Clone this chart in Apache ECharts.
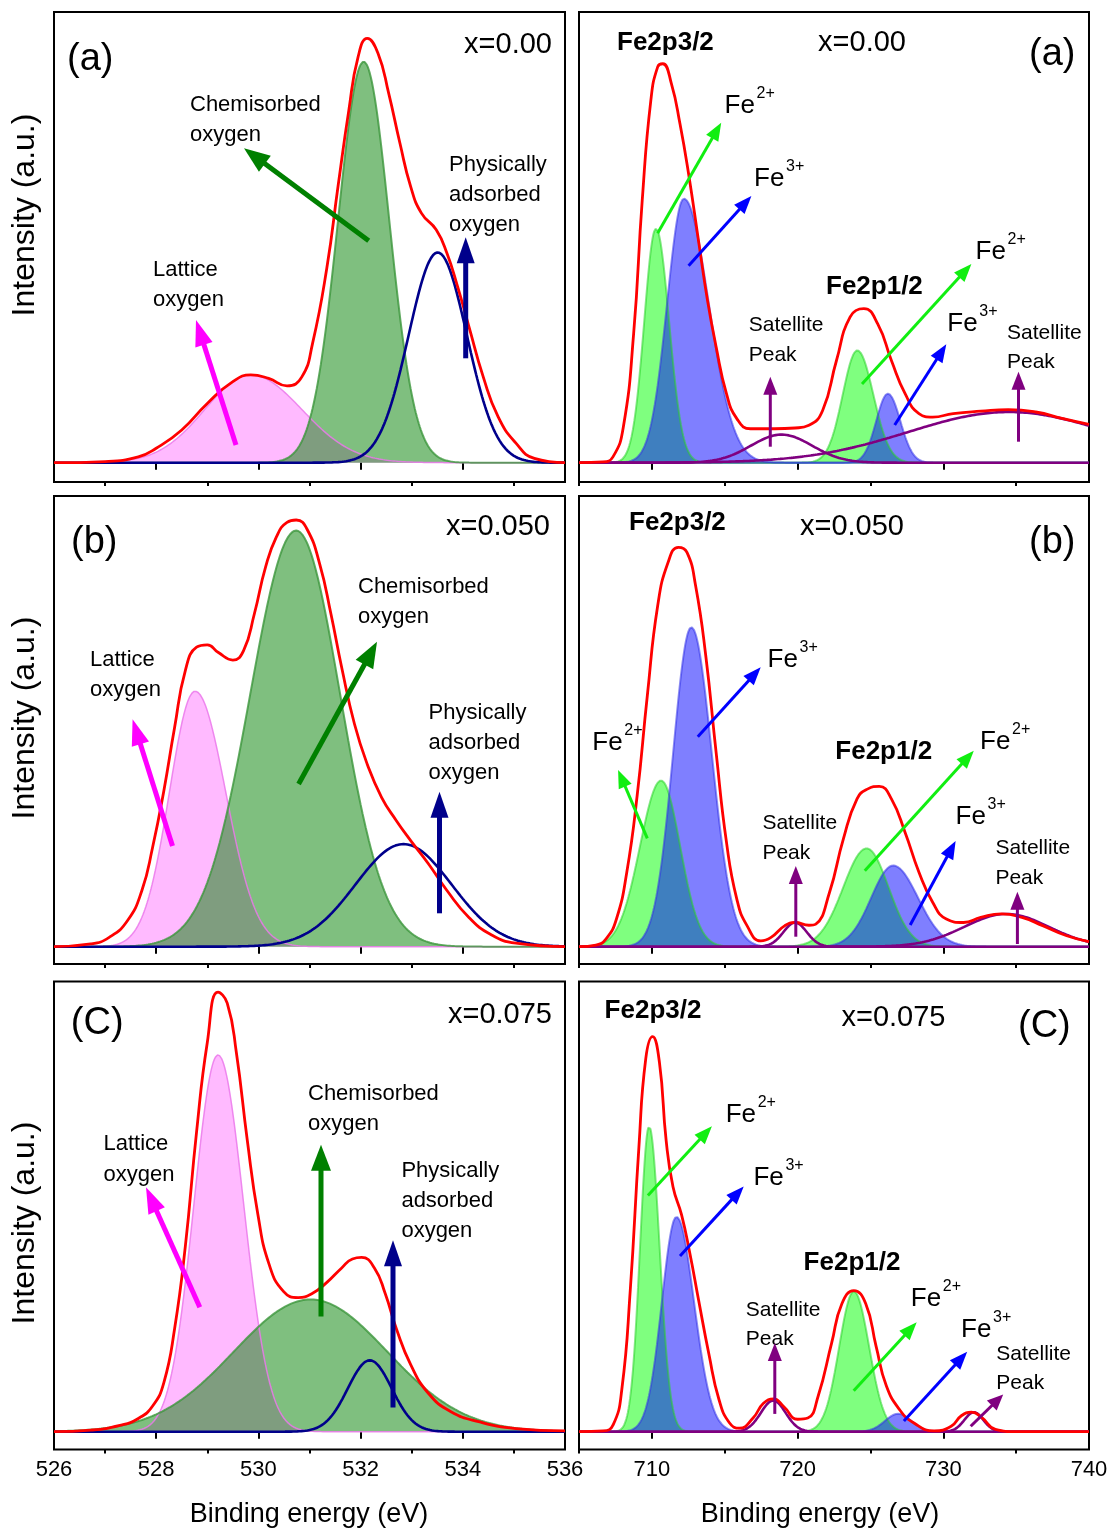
<!DOCTYPE html>
<html><head><meta charset="utf-8">
<script src="https://cdn.jsdelivr.net/npm/echarts@6/dist/echarts.min.js"></script>
<style>html,body{margin:0;padding:0;background:#fff}#c{width:1110px;height:1532px}</style>
</head><body><div id="c"></div><script>
// ================= DATA =================
// Tick labels
const oTicks = [526, 528, 530, 532, 534, 536];
const oMinorTicks = [527, 529, 531, 533, 535];
const feTicks = [710, 720, 730, 740];
const feMinorTicks = [705, 715, 725, 735];
const oRange = [526, 536];
const feRange = [705, 740];

// Fitted component peaks: [centre (eV), height (a.u.), sigma left, sigma right]
// O1s  x=0.00
const oA_lattice = [529.85, 0.225, 0.90, 1.00];
const oA_chem    = [532.06, 1.028, 0.50, 0.50];
const oA_phys    = [533.51, 0.539, 0.57, 0.57];
// O1s  x=0.050
const oB_lattice = [528.76, 0.655, 0.50, 0.60];
const oB_chem    = [530.74, 1.067, 0.90, 0.86];
const oB_phys    = [532.84, 0.263, 0.94, 0.94];
// O1s  x=0.075
const oC_lattice = [529.21, 0.966, 0.47, 0.50];
const oC_chem    = [531.02, 0.339, 1.50, 1.50];
const oC_phys    = [532.18, 0.183, 0.43, 0.43];
// Fe2p x=0.00
const feA_fe2_32 = [710.28, 0.600, 0.80, 0.90];
const feA_fe3_32 = [712.20, 0.677, 1.15, 1.70];
const feA_sat1   = [718.90, 0.072, 2.10, 2.10];
const feA_fe2_12 = [724.10, 0.288, 1.00, 1.10];
const feA_fe3_12 = [726.20, 0.177, 0.80, 0.85];
const feA_sat2   = [734.50, 0.130, 6.90, 6.90];
// Fe2p x=0.050
const feB_fe2_32 = [710.64, 0.426, 1.45, 1.30];
const feB_fe3_32 = [712.71, 0.819, 1.25, 1.40];
const feB_sat1   = [719.83, 0.062, 0.80, 0.80];
const feB_fe2_12 = [724.74, 0.252, 1.60, 1.50];
const feB_fe3_12 = [726.56, 0.208, 1.50, 1.70];
const feB_sat2   = [734.34, 0.084, 2.90, 2.90];
// Fe2p x=0.075
const feC_fe2_32 = [709.81, 0.783, 0.62, 0.72];
const feC_fe3_32 = [711.69, 0.551, 1.00, 1.20];
const feC_sat1   = [718.33, 0.080, 0.85, 0.85];
const feC_fe2_12 = [723.86, 0.360, 1.00, 1.05];
const feC_fe3_12 = [726.90, 0.046, 0.90, 0.90];
const feC_sat2   = [732.10, 0.050, 0.65, 0.65];

// Envelope (red) curves: [binding energy (eV), intensity (a.u.)]
const oA_env = [[526,0],[527,0.003],[527.65,0.015],[528,0.037],[528.5,0.084],[529,0.152],[529.5,0.208],[529.85,0.225],[530.2,0.216],[530.56,0.197],[530.85,0.22],[531.06,0.306],[531.34,0.5],[531.56,0.71],[531.77,0.904],[531.95,1.04],[532.13,1.088],[532.34,1.05],[532.55,0.947],[532.77,0.819],[532.98,0.708],[533.19,0.64],[533.48,0.597],[533.69,0.537],[533.9,0.451],[534.12,0.349],[534.4,0.22],[534.69,0.118],[535.04,0.05],[535.4,0.011],[536,0]];
const oB_env = [[526,0],[526.72,0.007],[527.08,0.024],[527.44,0.067],[527.72,0.144],[527.93,0.255],[528.15,0.4],[528.36,0.562],[528.57,0.708],[528.79,0.768],[529,0.774],[529.21,0.755],[529.5,0.735],[529.71,0.759],[529.92,0.853],[530.14,0.973],[530.35,1.05],[530.56,1.088],[530.74,1.094],[530.95,1.071],[531.2,0.981],[531.42,0.853],[531.63,0.716],[531.88,0.571],[532.13,0.468],[532.41,0.383],[532.7,0.323],[532.98,0.272],[533.33,0.212],[533.69,0.144],[534.12,0.075],[534.54,0.032],[535.04,0.009],[536,0]];
const oC_env = [[526,0],[526.72,0.004],[527.29,0.016],[527.65,0.034],[527.93,0.066],[528.15,0.126],[528.36,0.264],[528.57,0.475],[528.79,0.769],[529,0.998],[529.21,1.127],[529.39,1.099],[529.57,0.971],[529.78,0.75],[529.99,0.557],[530.21,0.429],[530.49,0.36],[530.78,0.344],[531.06,0.355],[531.34,0.383],[531.63,0.42],[531.84,0.443],[532.02,0.447],[532.27,0.42],[532.48,0.355],[532.7,0.264],[532.98,0.172],[533.33,0.098],[533.76,0.052],[534.33,0.025],[535.04,0.008],[536,0.002]];
const feA_env = [[705,0],[706.63,0.002],[707.33,0.015],[708.04,0.091],[708.75,0.331],[709.34,0.673],[709.93,0.929],[710.4,1.015],[710.75,1.023],[711.34,0.972],[711.93,0.869],[712.52,0.741],[713.23,0.562],[713.82,0.416],[714.41,0.297],[715.12,0.177],[715.83,0.113],[716.77,0.087],[718.42,0.087],[719.83,0.089],[720.78,0.096],[721.72,0.134],[722.67,0.262],[723.61,0.374],[724.55,0.395],[725.5,0.356],[726.44,0.262],[727.38,0.177],[728.33,0.126],[729.27,0.117],[730.68,0.126],[732.57,0.132],[734.46,0.136],[736.34,0.13],[738.23,0.113],[740,0.098]];
const feB_env = [[705,0],[706.16,0.004],[706.86,0.02],[707.57,0.071],[708.28,0.191],[708.99,0.387],[709.69,0.644],[710.4,0.874],[711.11,0.985],[711.82,1.024],[712.41,1.011],[713,0.926],[713.7,0.746],[714.41,0.498],[715.12,0.268],[715.83,0.122],[716.53,0.054],[717.48,0.015],[718.18,0.024],[719.13,0.054],[719.83,0.062],[720.78,0.055],[721.25,0.058],[722.19,0.139],[723.14,0.276],[724.08,0.379],[724.79,0.404],[725.61,0.411],[726.44,0.379],[727.38,0.293],[728.33,0.191],[729.27,0.114],[730.21,0.071],[731.39,0.062],[732.57,0.075],[733.98,0.084],[735.4,0.075],[736.82,0.054],[738.47,0.028],[740,0.013]];
const feC_env = [[705,0],[706.65,0.002],[707.35,0.018],[707.94,0.109],[708.52,0.364],[709.11,0.729],[709.58,0.956],[710.05,1.013],[710.52,0.947],[710.98,0.747],[711.45,0.628],[712.04,0.556],[712.62,0.455],[713.21,0.337],[713.91,0.2],[714.61,0.082],[715.32,0.023],[716.02,0.009],[716.96,0.036],[717.66,0.073],[718.36,0.084],[719.06,0.064],[720,0.032],[720.7,0.035],[721.41,0.091],[722.34,0.228],[723.04,0.328],[723.86,0.362],[724.68,0.328],[725.39,0.219],[726.09,0.118],[727.03,0.055],[727.96,0.023],[729.37,0.002],[730.54,0.014],[731.24,0.041],[731.94,0.05],[732.65,0.036],[733.58,0.006],[735,0],[740,0]];

// Panel texts
const oSamples = ['x=0.00', 'x=0.050', 'x=0.075'];
const panelTags = ['(a)', '(b)', '(C)'];

// ================= LAYOUT / STYLE =================
const FONT = "'Liberation Sans', Arial, sans-serif";
const colL = {left: 54, width: 511};
const colR = {left: 579, width: 510};
const rows = [
  {top: 12, height: 470, yMin: -0.0495},
  {top: 496, height: 468, yMin: -0.0444},
  {top: 981.5, height: 468, yMin: -0.0456}
];
const PX_PER_UNIT = 390;

function peakCurve(p, lo, hi, step) {
  const out = [];
  const n = Math.round((hi - lo) / step);
  for (let i = 0; i <= n; i++) {
    const x = lo + i * step;
    const s = x < p[0] ? p[2] : p[3];
    out.push([+x.toFixed(3), p[1] * Math.exp(-((x - p[0]) ** 2) / (2 * s * s))]);
  }
  return out;
}

const oStyles = {
  lattice: {line: 'rgba(235,120,235,0.85)', w: 1.5, area: 'rgba(255,0,255,0.27)'},
  chem: {line: 'rgba(60,150,60,0.8)', w: 2, area: 'rgba(0,128,0,0.5)'},
  phys: {line: '#00008b', w: 2.6, area: null}
};
const feStyles = {
  fe2: {line: 'rgba(40,210,40,0.55)', w: 2, area: 'rgba(0,255,0,0.5)'},
  fe3: {line: 'rgba(50,50,230,0.55)', w: 2, area: 'rgba(0,0,255,0.5)'},
  sat: {line: '#800080', w: 2.6, area: null}
};

const panels = [
  {row: 0, col: 'L', comps: [[oA_lattice, 'lattice'], [oA_chem, 'chem'], [oA_phys, 'phys']], env: oA_env},
  {row: 0, col: 'R', comps: [[feA_fe2_32, 'fe2'], [feA_fe2_12, 'fe2'], [feA_fe3_32, 'fe3'], [feA_fe3_12, 'fe3'], [feA_sat1, 'sat'], [feA_sat2, 'sat']], env: feA_env},
  {row: 1, col: 'L', comps: [[oB_lattice, 'lattice'], [oB_chem, 'chem'], [oB_phys, 'phys']], env: oB_env},
  {row: 1, col: 'R', comps: [[feB_fe2_32, 'fe2'], [feB_fe2_12, 'fe2'], [feB_fe3_32, 'fe3'], [feB_fe3_12, 'fe3'], [feB_sat1, 'sat'], [feB_sat2, 'sat']], env: feB_env},
  {row: 2, col: 'L', comps: [[oC_lattice, 'lattice'], [oC_chem, 'chem'], [oC_phys, 'phys']], env: oC_env},
  {row: 2, col: 'R', comps: [[feC_fe2_32, 'fe2'], [feC_fe2_12, 'fe2'], [feC_fe3_32, 'fe3'], [feC_fe3_12, 'fe3'], [feC_sat1, 'sat'], [feC_sat2, 'sat']], env: feC_env}
];

const grid = [], xAxis = [], yAxis = [], series = [];
panels.forEach((p, i) => {
  const r = rows[p.row];
  const c = p.col === 'L' ? colL : colR;
  const isO = p.col === 'L';
  const range = isO ? oRange : feRange;
  const major = isO ? oTicks : feTicks;
  const minor = isO ? oMinorTicks : feMinorTicks;
  const bottom = p.row === 2;
  grid.push({left: c.left, top: r.top, width: c.width, height: r.height, show: true,
    borderColor: '#000', borderWidth: 2, backgroundColor: 'transparent', containLabel: false, outerBoundsMode: 'none'});
  xAxis.push({type: 'value', gridIndex: i, min: range[0], max: range[1], position: 'bottom',
    axisLine: {show: false}, splitLine: {show: false},
    axisTick: {show: true, customValues: major, length: 7, lineStyle: {color: '#000', width: 2}},
    axisLabel: {show: bottom, customValues: major, fontSize: 22, color: '#000', fontFamily: FONT, margin: 9}});
  xAxis.push({type: 'value', gridIndex: i, min: range[0], max: range[1], position: 'bottom',
    axisLine: {show: false}, splitLine: {show: false},
    axisTick: {show: true, customValues: minor, length: 4, lineStyle: {color: '#000', width: 2}},
    axisLabel: {show: false}});
  yAxis.push({type: 'value', gridIndex: i, min: r.yMin, max: r.yMin + r.height / PX_PER_UNIT, show: false});
  const step = isO ? 0.02 : 0.05;
  p.comps.forEach(([par, kind]) => {
    const st = (isO ? oStyles : feStyles)[kind];
    const s = {type: 'line', xAxisIndex: 2 * i, yAxisIndex: i, showSymbol: false, silent: true,
      data: peakCurve(par, range[0], range[1], step),
      lineStyle: {color: st.line, width: st.w}};
    if (st.area) s.areaStyle = {color: st.area, opacity: 1};
    series.push(s);
  });
  series.push({type: 'line', xAxisIndex: 2 * i, yAxisIndex: i, showSymbol: false, silent: true,
    smooth: 0.5, data: p.env, lineStyle: {color: '#ff0000', width: 2.8, join: 'round'}});
});

// ---------- annotations ----------
const G = [];
function txt(s, x, y, size, o = {}) {
  G.push({type: 'text', z: 100, x: x, y: y, rotation: o.rot || 0,
    style: {text: s, x: 0, y: 0, fontSize: size, fontFamily: FONT, fontWeight: o.bold ? 'bold' : 'normal',
      fill: '#000', align: o.align || 'left', textAlign: o.align || 'left',
      verticalAlign: 'middle', textVerticalAlign: 'middle'}});
}
function lines(arr, x, y0, lh, size) { arr.forEach((s, k) => txt(s, x, y0 + k * lh, size)); }
function fe(x, y, sup) { txt('Fe', x, y, 26); txt(sup, x + 32, y - 12, 16); }
function arrow(x1, y1, x2, y2, color, w, hl, hw) {
  const dx = x2 - x1, dy = y2 - y1, L = Math.hypot(dx, dy), ux = dx / L, uy = dy / L;
  const bx = x2 - ux * hl, by = y2 - uy * hl, px = -uy, py = ux;
  G.push({type: 'line', z: 100, shape: {x1: x1, y1: y1, x2: bx + ux * 2, y2: by + uy * 2},
    style: {stroke: color, lineWidth: w}});
  G.push({type: 'polygon', z: 100, shape: {points: [[x2, y2], [bx + px * hw, by + py * hw], [bx - px * hw, by - py * hw]]},
    style: {fill: color}});
}
const MAG = '#ff00ff', DG = '#008000', NAVY = '#00008b', LG = '#11ee11', BL = '#0000ff', PUR = '#800080';

// Row a - left
txt(panelTags[0], 67, 60, 38); txt(oSamples[0], 552, 45, 29, {align: 'right'});
lines(['Chemisorbed', 'oxygen'], 190, 105, 30, 22);
lines(['Physically', 'adsorbed', 'oxygen'], 449, 165, 30, 22);
lines(['Lattice', 'oxygen'], 153, 270, 30, 22);
arrow(236, 445, 196, 320, MAG, 5, 26, 9);
arrow(368.7, 240.7, 244, 148.3, DG, 5, 26, 10);
arrow(465.7, 358.3, 465.7, 237.3, NAVY, 5, 26, 9);
// Row a - right
txt('Fe2p3/2', 617, 43, 26, {bold: true}); txt(oSamples[0], 862, 43, 29, {align: 'center'});
txt(panelTags[0], 1029, 55, 38);
fe(724.6, 106, '2+'); fe(754, 179, '3+');
txt('Fe2p1/2', 826, 287, 26, {bold: true});
fe(975.5, 252, '2+'); fe(947.3, 324, '3+');
lines(['Satellite', 'Peak'], 748.7, 325, 30, 21);
lines(['Satellite', 'Peak'], 1007, 333, 29, 21);
arrow(657.6, 233.3, 721.2, 122.7, LG, 3, 18, 7);
arrow(688.6, 265.7, 751.4, 196, BL, 3, 18, 7);
arrow(862, 384, 971.4, 264, LG, 3, 18, 7);
arrow(894.7, 425, 946.3, 344.3, BL, 3, 18, 7);
arrow(770.3, 446.7, 770.3, 376.7, PUR, 3, 18, 7);
arrow(1018.5, 441.7, 1018.5, 371.7, PUR, 3, 18, 7);

// Row b - left
txt(panelTags[1], 71, 543, 38); txt(oSamples[1], 550, 527, 29, {align: 'right'});
lines(['Chemisorbed', 'oxygen'], 358, 587, 30, 22);
lines(['Lattice', 'oxygen'], 90, 660, 30, 22);
lines(['Physically', 'adsorbed', 'oxygen'], 428.6, 713, 30, 22);
arrow(298.6, 784, 377, 641.7, DG, 5, 26, 10);
arrow(172.5, 846, 132.6, 719.3, MAG, 5, 26, 9);
arrow(439.5, 913.3, 439.5, 791.7, NAVY, 5, 26, 9);
// Row b - right
txt('Fe2p3/2', 629, 523, 26, {bold: true}); txt(oSamples[1], 852, 527, 29, {align: 'center'});
txt(panelTags[1], 1029, 543, 38);
fe(767.6, 660, '3+'); fe(592.3, 743, '2+');
txt('Fe2p1/2', 835.3, 752, 26, {bold: true});
fe(980, 742, '2+'); fe(955.6, 817, '3+');
lines(['Satellite', 'Peak'], 762.4, 823.3, 30, 21);
lines(['Satellite', 'Peak'], 995.4, 848.3, 30, 21);
arrow(697.8, 736.7, 760.7, 667.3, BL, 3, 18, 7);
arrow(647.3, 838.3, 618.1, 770, LG, 3, 18, 7);
arrow(864.8, 870.7, 973.8, 750.7, LG, 3, 18, 7);
arrow(910.2, 925, 955.6, 841, BL, 3, 18, 7);
arrow(795.8, 936.7, 795.8, 866, PUR, 3, 18, 7);
arrow(1017.4, 944, 1017.4, 891.7, PUR, 3, 18, 7);

// Row c - left
txt(panelTags[2], 70.8, 1024, 38); txt(oSamples[2], 552, 1015, 29, {align: 'right'});
lines(['Chemisorbed', 'oxygen'], 308, 1093.5, 30.5, 22);
lines(['Lattice', 'oxygen'], 103.5, 1144.4, 30.5, 22);
lines(['Physically', 'adsorbed', 'oxygen'], 401.4, 1170.5, 30, 22);
arrow(321, 1316.6, 321, 1144.7, DG, 5, 26, 10);
arrow(199.8, 1307.3, 146, 1187.3, MAG, 5, 26, 9);
arrow(393, 1407.5, 393, 1240.3, NAVY, 5, 26, 9);
// Row c - right
txt('Fe2p3/2', 604.6, 1011, 26, {bold: true}); txt(oSamples[2], 893.5, 1018, 29, {align: 'center'});
txt(panelTags[2], 1018, 1027, 38);
fe(725.7, 1115, '2+'); fe(753.4, 1178, '3+');
txt('Fe2p1/2', 803.6, 1263, 26, {bold: true});
fe(910.8, 1299, '2+'); fe(961, 1330, '3+');
lines(['Satellite', 'Peak'], 745.8, 1310.2, 29, 21);
lines(['Satellite', 'Peak'], 996.3, 1354.6, 29, 21);
arrow(647.9, 1195.5, 711.9, 1126.3, LG, 3, 18, 7);
arrow(680, 1255.9, 743.7, 1186.6, BL, 3, 18, 7);
arrow(853.7, 1390.8, 916.7, 1322.3, LG, 3, 18, 7);
arrow(903.9, 1421, 967.2, 1351.7, BL, 3, 18, 7);
arrow(774.8, 1413.9, 774.8, 1342.9, PUR, 3, 18, 7);
arrow(970.7, 1426.3, 1003.2, 1394.4, PUR, 3, 16, 7);

// Axis titles
[215, 718, 1223].forEach(y => txt('Intensity (a.u.)', 25, y, 32, {align: 'center', rot: Math.PI / 2}));
txt('Binding energy (eV)', 309, 1515, 27, {align: 'center'});
txt('Binding energy (eV)', 820, 1515, 27, {align: 'center'});

const chart = echarts.init(document.getElementById('c'), null, {renderer: 'canvas'});
chart.setOption({animation: false, backgroundColor: '#fff', grid, xAxis, yAxis, series, graphic: {elements: G}});
</script></body></html>
